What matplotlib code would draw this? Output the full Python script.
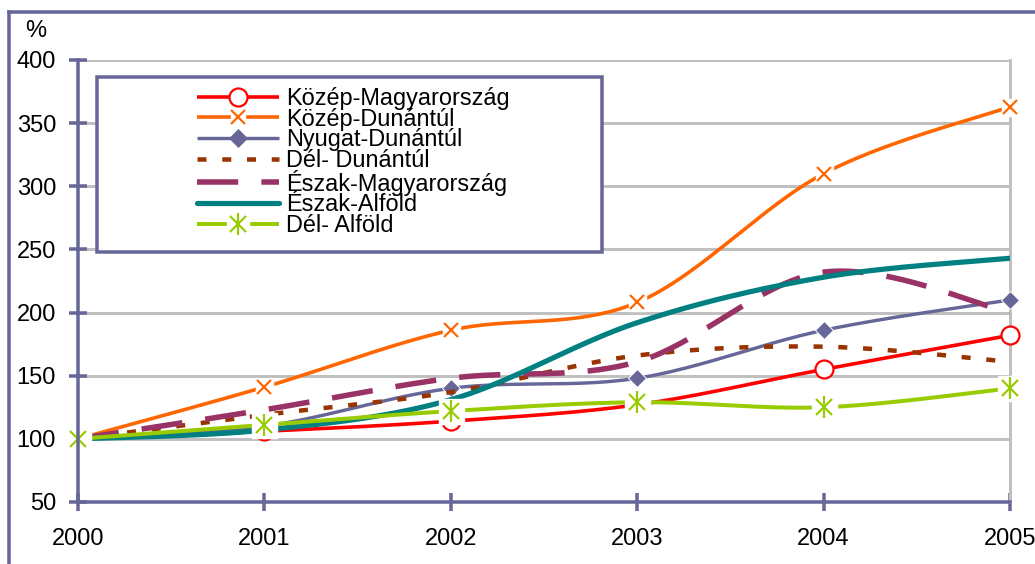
import matplotlib
matplotlib.use('Agg')
import numpy as np
import matplotlib.pyplot as plt
from matplotlib.lines import Line2D
from matplotlib.patches import Rectangle
from matplotlib.legend_handler import HandlerTuple

plt.rcParams['font.family'] = ['Liberation Sans', 'DejaVu Sans']

years = [2000, 2001, 2002, 2003, 2004, 2005]
labels = ['Közép-Magyarország', 'Közép-Dunántúl', 'Nyugat-Dunántúl', 'Dél- Dunántúl',
          'Észak-Magyarország', 'Észak-Alföld', 'Dél- Alföld']
kozep_magyarorszag = [100, 106, 114, 127, 155, 182]
kozep_dunantul = [100, 141, 186, 208, 310, 363]
nyugat_dunantul = [100, 110, 140, 148, 186, 210]
del_dunantul = [100, 119, 137, 166, 173, 161]
eszak_magyarorszag = [100, 123, 148, 161, 232, 200]
eszak_alfold = [100, 107, 131, 192, 228, 243]
del_alfold = [100, 111, 122, 129, 125, 140]
yticks = [50, 100, 150, 200, 250, 300, 350, 400]

SLATE = '#666699'
GRID = '#C0C0C0'
W, H = 1035, 564


def smooth(x, y, n=40):
    P = np.column_stack([np.asarray(x, float), np.asarray(y, float)])
    out = []
    for i in range(len(P) - 1):
        p0 = P[i - 1] if i > 0 else P[i]
        p1, p2 = P[i], P[i + 1]
        p3 = P[i + 2] if i + 2 < len(P) else P[i + 1]
        c1 = p1 + (p2 - p0) / 6.0
        c2 = p2 - (p3 - p1) / 6.0
        t = np.linspace(0, 1, n)[:, None]
        seg = (1 - t) ** 3 * p1 + 3 * (1 - t) ** 2 * t * c1 + 3 * (1 - t) * t ** 2 * c2 + t ** 3 * p2
        out.append(seg if i == 0 else seg[1:])
    s = np.vstack(out)
    return s[:, 0], s[:, 1]


def px(v):
    return v * 0.72  # pixels -> points at 100 dpi


fig = plt.figure(figsize=(W / 100, H / 100), dpi=100)
ax = fig.add_axes([78 / W, 1 - 502 / H, (1010 - 78) / W, (502 - 60) / H])

series = [
    dict(y=kozep_magyarorszag, color='#FF0000', lw=px(3.6), ls='-', marker='o', ms=px(18), box=None),
    dict(y=kozep_dunantul, color='#FF6600', lw=px(3.6), ls='-', marker='x', ms=px(14), box=px(17)),
    dict(y=nyugat_dunantul, color=SLATE, lw=px(3.4), ls='-', marker='D', ms=px(13), box=None),
    dict(y=del_dunantul, color='#993300', lw=px(4.5), ls=(0, (2.0, 3.5)), marker=None, ms=0, box=None),
    dict(y=eszak_magyarorszag, color='#993366', lw=px(5.5), ls=(0, (7.5, 4.2)), marker=None, ms=0, box=None),
    dict(y=eszak_alfold, color='#008080', lw=px(5.2), ls='-', marker=None, ms=0, box=None),
    dict(y=del_alfold, color='#99CC00', lw=px(4), ls='-', marker='ast', ms=px(22), box=px(25)),
]

handles = []
for k, s in enumerate(series):
    z = 3 + k * 0.1
    xs, ys = smooth(years, s['y'])
    ax.plot(xs, ys, color=s['color'], lw=s['lw'], ls=s['ls'], zorder=z,
            solid_capstyle='butt', dash_capstyle='butt')
    hline = Line2D([], [], color=s['color'], lw=s['lw'], ls=s['ls'],
                   solid_capstyle='round' if k == 5 else 'butt', dash_capstyle='butt')
    parts = [hline]
    if s['box']:
        ax.plot(years, s['y'], ls='none', marker='s', ms=s['box'], mfc='white', mec='white',
                zorder=z + 0.03, clip_on=False)
        parts.append(Line2D([], [], ls='none', marker='s', ms=s['box'] * 0.85, mfc='white', mec='white'))
    if s['marker'] == 'o':
        ax.plot(years, s['y'], ls='none', marker='o', ms=s['ms'], mfc='white', mec=s['color'],
                mew=px(2.2), zorder=z + 0.05, clip_on=False)
        parts.append(Line2D([], [], ls='none', marker='o', ms=s['ms'], mfc='white', mec=s['color'], mew=px(2.2)))
    elif s['marker'] == 'x':
        ax.plot(years, s['y'], ls='none', marker='x', ms=s['ms'], mec=s['color'],
                mew=px(2.2), zorder=z + 0.05, clip_on=False)
        parts.append(Line2D([], [], ls='none', marker='x', ms=s['ms'], mec=s['color'], mew=px(2.2)))
    elif s['marker'] == 'D':
        ax.plot(years, s['y'], ls='none', marker='D', ms=s['ms'], mfc=s['color'], mec='white',
                mew=px(1), zorder=z + 0.05, clip_on=False)
        parts.append(Line2D([], [], ls='none', marker='D', ms=s['ms'], mfc=s['color'], mec=s['color'], mew=0.5))
    elif s['marker'] == 'ast':
        for m, sc in (('x', 0.72), ('|', 1.0)):
            ax.plot(years, s['y'], ls='none', marker=m, ms=s['ms'] * sc, mec=s['color'],
                    mew=px(2.2), zorder=z + 0.05, clip_on=False)
            parts.append(Line2D([], [], ls='none', marker=m, ms=s['ms'] * sc, mec=s['color'], mew=px(2.2)))
    handles.append(tuple(parts))

ax.set_xlim(2000, 2005)
ax.set_ylim(50, 400)
ax.set_yticks(yticks)
ax.set_xticks(years)
ax.set_xticklabels([str(y) for y in years])
ax.grid(axis='y', color=GRID, lw=px(3), zorder=1)
ax.set_axisbelow(True)
for side in ('left', 'bottom'):
    ax.spines[side].set_color(SLATE)
    ax.spines[side].set_linewidth(px(3.5))
    ax.spines[side].set_zorder(6)
ax.spines['right'].set_color(GRID)
ax.spines['right'].set_linewidth(px(3))
ax.spines['top'].set_visible(False)
ax.tick_params(axis='both', direction='inout', length=px(18), width=px(3.5), color=SLATE,
               labelsize=17, labelcolor='black')
ax.tick_params(axis='y', pad=px(13))
ax.tick_params(axis='x', pad=px(17))
ax.patch.set_visible(False)

fig.text(36 / W, 1 - 31 / H, '%', fontsize=17, ha='center', va='center')

# figure border (top and left)
fig.add_artist(Line2D([9 / W, 9 / W], [0, 1 - 12 / H], color=SLATE, lw=px(3.5)))
fig.add_artist(Line2D([9 / W, 1], [1 - 12 / H, 1 - 12 / H], color=SLATE, lw=px(3.5)))

# legend box
rect = Rectangle((97 / W, 1 - 252 / H), (602 - 97) / W, (252 - 77) / H, transform=fig.transFigure,
                 facecolor='white', edgecolor=SLATE, lw=px(3.5), zorder=10, clip_on=False)
ax.add_patch(rect)
leg = ax.legend(handles, labels, loc='center left', bbox_to_anchor=(197 / W, 1 - 162 / H),
                bbox_transform=fig.transFigure, frameon=False, fontsize=16.9, borderpad=0,
                borderaxespad=0, handlelength=3.5, handletextpad=0.28, labelspacing=-0.1,
                numpoints=1, handler_map={tuple: HandlerTuple(ndivide=1, pad=0)})
leg.set_zorder(11)

fig.savefig('out.png', dpi=100)
